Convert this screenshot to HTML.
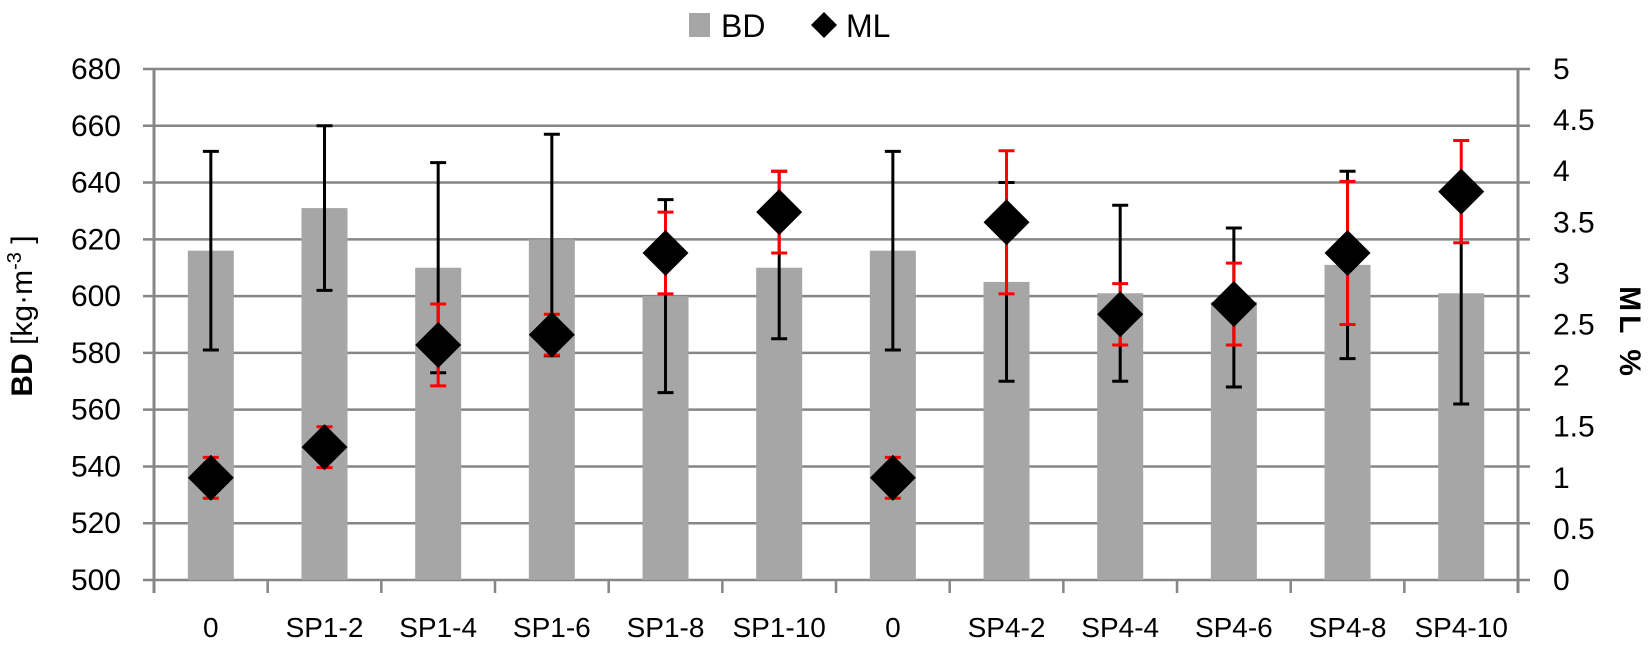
<!DOCTYPE html>
<html><head><meta charset="utf-8"><style>body{margin:0;background:#fff}svg{display:block}text{font-family:"Liberation Sans",sans-serif}</style></head>
<body>
<svg width="1652" height="649" viewBox="0 0 1652 649" xmlns="http://www.w3.org/2000/svg">
<g id="grid" stroke="#868686" stroke-width="2.5"></g>
<g id="bars"></g><g id="eb"></g><g id="er"></g><g id="dm"></g><g id="lbl" font-size="28" fill="#000"></g>
<g stroke="#868686" stroke-width="3">
<line x1="154" y1="68" x2="154" y2="593"/>
<line x1="1518" y1="68" x2="1518" y2="593"/>
</g>
<rect x="689" y="13" width="21" height="24" fill="#a6a6a6"/>
<text x="721" y="37" font-size="32">BD</text>
<polygon points="824,12 837,25 824,38 811,25" fill="#000"/>
<text x="846" y="37" font-size="32">ML</text>
<text transform="translate(32,316) rotate(-90)" text-anchor="middle" font-size="30"><tspan font-weight="bold">BD</tspan>  [kg·m<tspan dy="-11" font-size="20">-3</tspan><tspan dy="11"> ]</tspan></text>
<text transform="translate(1620,333) rotate(90)" text-anchor="middle" font-size="30" font-weight="bold" letter-spacing="4">ML %</text>
</svg>
<script>
const NS="http://www.w3.org/2000/svg";
function el(p,t,a,txt){const e=document.createElementNS(NS,t);for(const k in a)e.setAttribute(k,a[k]);if(txt!==undefined)e.textContent=txt;document.getElementById(p).appendChild(e);}
const yB=v=>580-(v-500)*511/180, yM=m=>580-m*102.2, W=113.67, cx=i=>154+W*(i+0.5);
for(let v=500;v<=680;v+=20){el('grid','line',{x1:143,x2:1530,y1:yB(v),y2:yB(v)});el('lbl','text',{x:121,y:yB(v)+10,'text-anchor':'end','font-size':30},v);}
for(let m=0;m<=10;m++){const y=yM(m/2);el('lbl','text',{x:1553,y:y+10,'font-size':30},String(m/2));}
for(let i=0;i<=12;i++){el('grid','line',{x1:154+W*i,x2:154+W*i,y1:580,y2:593});}
const names=["0","SP1-2","SP1-4","SP1-6","SP1-8","SP1-10","0","SP4-2","SP4-4","SP4-6","SP4-8","SP4-10"];
const bd=[616,631,610,620,600,610,616,605,601,598,611,601];
const bde=[[581,651],[602,660],[573,647],[579,657],[566,634],[585,644],[581,651],[570,640],[570,632],[568,624],[578,644],[562,640]];
const ml=[1.0,1.3,2.3,2.4,3.2,3.6,1.0,3.5,2.6,2.7,3.2,3.8];
const mle=[[0.8,1.2],[1.1,1.5],[1.9,2.7],[2.2,2.6],[2.8,3.6],[3.2,4.0],[0.8,1.2],[2.8,4.2],[2.3,2.9],[2.3,3.1],[2.5,3.9],[3.3,4.3]];
names.forEach((n,i)=>{const x=cx(i);
el('bars','rect',{x:x-23,y:yB(bd[i]),width:46,height:580-yB(bd[i]),fill:'#a6a6a6'});
const [a,b]=bde[i];
el('eb','path',{d:`M${x} ${yB(a)}V${yB(b)}M${x-8} ${yB(a)}h16M${x-8} ${yB(b)}h16`,stroke:'#000','stroke-width':3,fill:'none'});
const [c,d]=mle[i];
el('er','path',{d:`M${x} ${yM(c)}V${yM(d)}M${x-8} ${yM(c)}h16M${x-8} ${yM(d)}h16`,stroke:'#ff0000','stroke-width':3,fill:'none'});
const y=yM(ml[i]);
el('dm','polygon',{points:`${x},${y-23} ${x+23},${y} ${x},${y+23} ${x-23},${y}`,fill:'#000'});
el('lbl','text',{x:x,y:637,'text-anchor':'middle'},n);
});
</script>
</body></html>
